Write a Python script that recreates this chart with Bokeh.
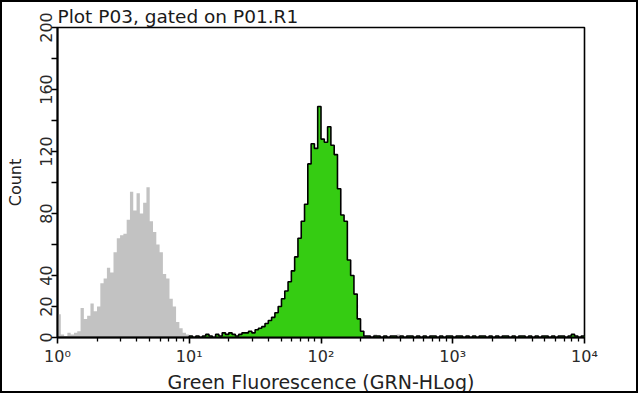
import numpy as np
from bokeh.plotting import figure
from bokeh.models import FixedTicker, Range1d
from bokeh.embed import file_html
from bokeh.resources import INLINE

# ---- data ----
bins_per_decade = 40
n_decades = 4
title_text = "Plot P03, gated on P01.R1"
x_label = "Green Fluorescence (GRN-HLog)"
y_label = "Count"
x_tick_values = [1, 10, 100, 1000, 10000]
x_tick_labels = ["10\u2070", "10\u00b9", "10\u00b2", "10\u00b3", "10\u2074"]
y_tick_values = [0, 20, 40, 60, 80, 100, 120, 140, 160, 180, 200]
y_tick_labels = ["0", "20", "40", "", "80", "", "120", "", "160", "", "200"]

# control (gray) counts, 160 log bins
gray_counts = [
    15, 2, 1, 3, 2, 3, 4, 19, 12, 14,
    22, 17, 20, 35, 38, 45, 42, 55, 64, 66,
    67, 76, 94, 82, 93, 80, 87, 97, 75, 68,
    60, 55, 41, 38, 25, 20, 10, 6, 3, 2,
    1, 1, 0, 1, 0, 1, 0, 0, 1, 0,
    0, 1, 0, 0, 0, 1, 0, 0, 0, 0,
    1, 0, 0, 0, 1, 0, 0, 1, 0, 0,
    0, 1, 0, 0, 1, 0, 0, 0, 1, 0,
    1, 0, 1, 0, 0, 1, 2, 1, 0, 1,
    0, 1, 1, 0, 1, 0, 2, 1, 0, 1,
    1, 0, 1, 2, 0, 1, 1, 0, 1, 0,
    1, 1, 0, 1, 0, 1, 0, 1, 1, 0,
    1, 0, 0, 1, 0, 1, 0, 0, 1, 0,
    0, 1, 0, 0, 1, 0, 0, 1, 0, 0,
    1, 0, 0, 0, 1, 0, 0, 1, 0, 0,
    0, 1, 0, 0, 0, 0, 1, 0, 0, 0,
]

# sample (green) counts, 160 log bins
green_counts = [
    0, 0, 0, 0, 0, 0, 0, 0, 0, 0,
    0, 0, 0, 0, 0, 0, 0, 0, 0, 0,
    0, 0, 0, 0, 0, 0, 0, 0, 0, 0,
    0, 0, 0, 0, 0, 0, 0, 0, 0, 0,
    1, 0, 1, 0, 1, 2, 1, 0, 2, 1,
    3, 2, 3, 2, 1, 2, 3, 3, 4, 3,
    5, 6, 7, 9, 11, 13, 16, 20, 25, 30,
    36, 43, 52, 64, 75, 86, 112, 125, 122, 149,
    128, 126, 136, 124, 118, 96, 79, 75, 50, 40,
    28, 12, 4, 1, 1, 0, 1, 1, 0, 1,
    0, 1, 1, 0, 1, 0, 1, 1, 0, 1,
    0, 1, 0, 1, 1, 0, 1, 0, 1, 1,
    0, 1, 1, 0, 1, 0, 1, 0, 1, 1,
    0, 1, 0, 1, 0, 1, 1, 0, 1, 0,
    1, 1, 0, 1, 0, 1, 0, 1, 1, 0,
    1, 0, 1, 1, 0, 1, 2, 1, 0, 1,
]

# ---- build ----
edges = 10.0 ** (np.arange(bins_per_decade * n_decades + 1) / bins_per_decade)
sx = np.repeat(edges, 2)[1:-1]

p = figure(width=638, height=393, x_axis_type="log",
           x_range=Range1d(1, 10000), y_range=Range1d(0, 200),
           output_backend="svg", toolbar_location=None,
           min_border_left=55, min_border_right=56,
           min_border_top=25, min_border_bottom=54)
p.styles = {"border": "2px solid black"}

p.title.text = title_text
p.title.text_font = "DejaVu Sans"
p.title.text_font_size = "18.5px"
p.title.text_font_style = "normal"
p.title.text_color = "#1a1a1a"
p.title.offset = 0
p.title.standoff = 2

gy = np.repeat(np.array(gray_counts, dtype=float), 2)
p.varea(x=sx, y1=0, y2=gy, fill_color="#c2c2c2")

g = np.repeat(np.array(green_counts, dtype=float), 2)
p.varea(x=sx, y1=0, y2=g, fill_color="#35cc12")
p.line(sx, g, line_color="black", line_width=1.6)

p.xgrid.visible = False
p.ygrid.visible = False
p.outline_line_color = "black"
p.outline_line_width = 1.6
p.background_fill_color = "white"

xa = p.xaxis[0]
xa.ticker = FixedTicker(ticks=x_tick_values,
                        minor_ticks=[k * 10 ** d for d in range(4) for k in range(2, 10)])
xa.major_label_overrides = {v: s for v, s in zip(x_tick_values, x_tick_labels)}
xa.axis_label = x_label

ya = p.yaxis[0]
ya.ticker = FixedTicker(ticks=y_tick_values, minor_ticks=[])
ya.major_label_overrides = {v: s for v, s in zip(y_tick_values, y_tick_labels)}
ya.major_label_orientation = "vertical"
ya.axis_label = y_label

for ax in (xa, ya):
    ax.axis_line_color = "black"
    ax.axis_line_width = 2
    ax.major_tick_line_color = "black"
    ax.minor_tick_line_color = "black"
    ax.major_tick_line_width = 1.6
    ax.minor_tick_line_width = 1.3
    ax.major_tick_in = 0
    ax.major_tick_out = 6
    ax.minor_tick_in = 0
    ax.minor_tick_out = 4
    ax.major_label_text_font = "DejaVu Sans"
    ax.major_label_text_color = "#2a2a2a"
    ax.axis_label_text_font = "DejaVu Sans"
    ax.axis_label_text_font_style = "normal"
    ax.axis_label_text_color = "#222222"

xa.major_label_text_font_size = "16px"
xa.major_label_standoff = 3
xa.axis_label_text_font_size = "19px"
xa.axis_label_standoff = 2

ya.major_label_text_font_size = "16px"
ya.major_label_standoff = 0
ya.axis_label_text_font_size = "16px"
ya.axis_label_standoff = 12

open("out.html", "w").write(file_html(p, INLINE))
